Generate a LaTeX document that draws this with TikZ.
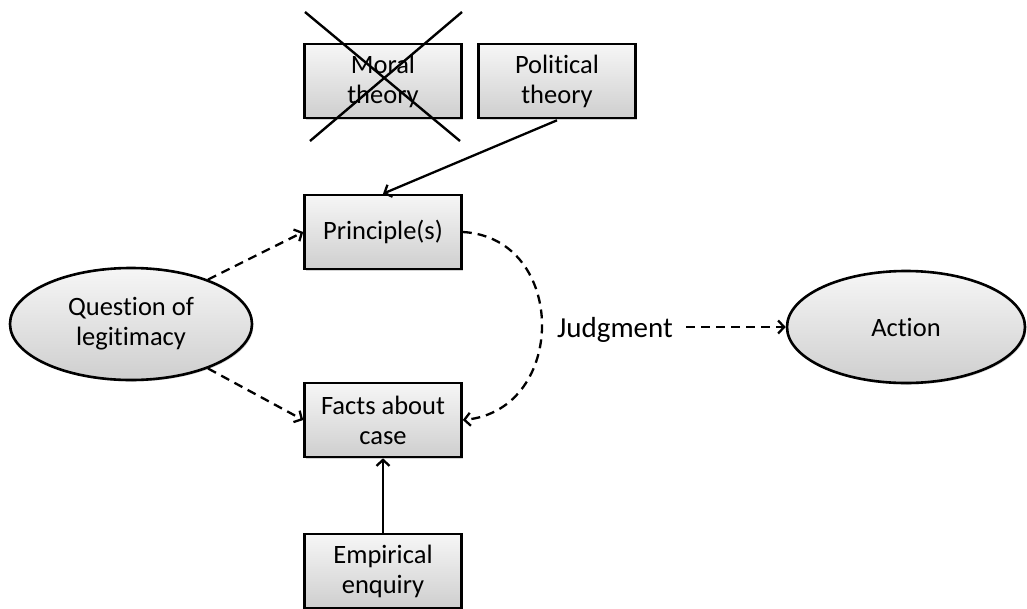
\documentclass[tikz,border=0pt]{standalone}
\usepackage{fontspec}
\setmainfont[Ligatures=NoCommon]{Carlito}
\usetikzlibrary{arrows.meta,shadows,shapes.geometric}
\begin{document}
\begin{tikzpicture}[x=1pt,y=-1pt,
  boxstyle/.style={draw=black,line width=2.6pt,rectangle,minimum width=157pt,minimum height=74pt,
    inner sep=0pt,align=center,top color=gray!7,bottom color=gray!38,
    drop shadow={shadow xshift=1.5pt,shadow yshift=-1.5pt,opacity=0.35},
    font=\fontsize{26.5}{30}\selectfont},
  ellstyle/.style={draw=black,line width=2.6pt,ellipse,minimum width=242pt,minimum height=112pt,
    inner sep=0pt,align=center,top color=gray!7,bottom color=gray!38,
    drop shadow={shadow xshift=1.5pt,shadow yshift=-1.5pt,opacity=0.35},
    font=\fontsize{26.5}{30}\selectfont},
  conn/.style={line width=2.3pt,-{Straight Barb[length=6pt,width=13pt,line width=2.3pt]}},
  dconn/.style={conn,dash pattern=on 9pt off 6pt}]
\useasboundingbox (0,0) rectangle (1027,608);
\node[boxstyle] (moral) at (383,81) {Moral\\theory};
\node[boxstyle] (pol) at (557,81) {Political\\theory};
\node[boxstyle] (prin) at (383,232) {Principle(s)};
\node[boxstyle] (facts) at (383,420) {Facts about\\case};
\node[boxstyle] (emp) at (383,571) {Empirical\\enquiry};
\node[ellstyle] (q) at (131,324) {Question of\\legitimacy};
\node[ellstyle,minimum width=238pt] (act) at (906,327) {Action};
\node[font=\fontsize{29}{32}\selectfont,inner sep=0pt,anchor=base west] (judg) at (557,337) {Judgment};
\coordinate (x1) at (305,12);
\coordinate (x2) at (460,141);
\coordinate (x3) at (462,12);
\coordinate (x4) at (310,141);
\draw[line width=2.4pt] (x1) -- (x2);
\draw[line width=2.4pt] (x3) -- (x4);
\draw[conn] (pol.south) ++(0,1) -- (prin.north);
\draw[conn] (emp.north) -- (facts.south);
\draw[dconn] (q.30) -- (prin.west);
\draw[dconn] (q.-30) -- (facts.west);
\draw[dconn] (prin.east) .. controls (568,238) and (568,410) .. (facts.east);
\draw[dconn] ([xshift=13pt]judg.east |- act.west) -- (act.west);
\end{tikzpicture}
\end{document}
